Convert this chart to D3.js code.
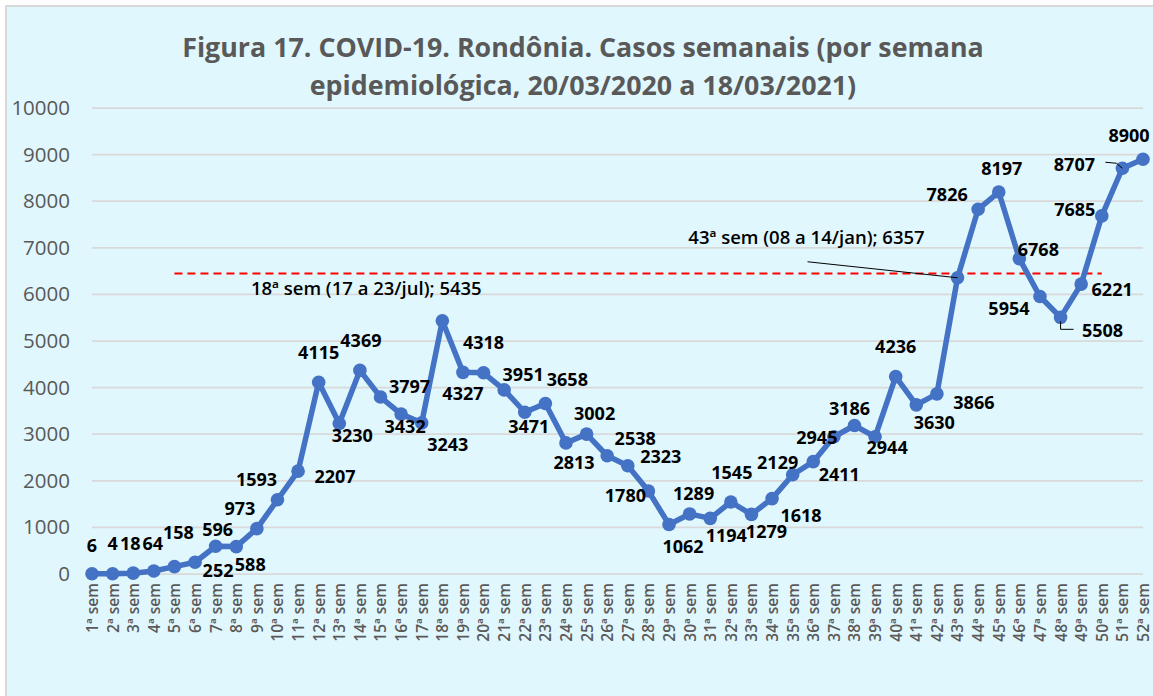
<!DOCTYPE html>
<html>
<head>
<meta charset="utf-8">
<script src="https://cdn.jsdelivr.net/npm/d3@7"></script>
<style>
  html, body { margin: 0; padding: 0; background: #fff; }
  svg { display: block; font-family: "Open Sans", sans-serif; }
</style>
</head>
<body>
<svg id="chart" width="1153" height="696"></svg>
<script>
const titleLines = [
    'Figura 17. COVID-19. Rondônia. Casos semanais (por semana',
    'epidemiológica, 20/03/2020 a 18/03/2021)'
];

const weeks = d3.range(1, 53).map(n => n + 'ª sem');

const cases = [
    6, 4, 18, 64, 158, 252, 596, 588, 973, 1593,
    2207, 4115, 3230, 4369, 3797, 3432, 3243, 5435, 4327, 4318,
    3951, 3471, 3658, 2813, 3002, 2538, 2323, 1780, 1062, 1289,
    1194, 1545, 1279, 1618, 2129, 2411, 2945, 3186, 2944, 4236,
    3630, 3866, 6357, 7826, 8197, 6768, 5954, 5508, 6221, 7685,
    8707, 8900
];

const yTicks = d3.range(0, 10001, 1000);

// dashed reference line (drawn by hand in the original)
const refLevel = 6450;
const refSpan = ['5ª sem', '50ª sem'];

const callouts = [
    { week: '18ª sem', text: '18ª sem (17 a 23/jul); ', dx: -76, dy: -33, leader: null },
    { week: '43ª sem', text: '43ª sem (08 a 14/jan); ', dx: -151, dy: -41, leader: [[-150, -16], [0, 0]] }
];

// label offset from each marker [dx, dy]; null = shown as a callout
const labelOffsets = [
    [0, -29], [0, -31], [-3, -30], [-1, -28], [4, -35], [23, 8], [2, -17], [14, 17], [-17, -21], [-21, -21],
    [37, 5], [0, -30], [13, 12], [1, -30], [29, -11], [4, 12], [26, 21], null, [0, 21], [0, -31],
    [19, -16], [4, 14], [22, -25], [8, 19], [8, -21], [28, -18], [33, -10], [-23, 4], [14, 21], [4, -21],
    [16, 17], [1, -30], [15, 17], [29, 16], [-15, -13], [26, 12], [-17, 0], [-5, -18], [12, 10], [0, -31],
    [18, 17], [37, 8], null, [-31, -15], [3, -24], [19, -10], [-31, 11], [42, 13], [31, 5], [-27, -7],
    [-48, -4], [-14, -24]
];

const labelLeaders = {
    '48ª sem': [[0, 4], [0, 12], [13, 12]],
    '51ª sem': [[-17, -6], [-6, -5], [0, 0]]
};

const width = 1153, height = 696;
const svg = d3.select('#chart');

svg.append('rect')
    .attr('x', 6).attr('y', 6)
    .attr('width', width + 20).attr('height', height + 20)
    .attr('fill', '#E1F7FE')
    .attr('stroke', '#D9D9D9')
    .attr('stroke-width', 2);

const x = d3.scalePoint().domain(weeks).range([92, 1143]);
const y = d3.scaleLinear().domain([0, 10000]).range([574, 108]);

// title, fitted to the width of the original
const title = svg.append('g')
    .attr('fill', '#595959')
    .style('font-weight', 700)
    .style('font-size', '28px');

const tl = title.selectAll('text')
    .data(titleLines)
    .join('text')
    .attr('x', 583)
    .attr('y', (d, i) => 57 + i * 38)
    .attr('text-anchor', 'middle')
    .text(d => d);

const firstLen = tl.node().getComputedTextLength();
title.style('font-size', (28 * 802 / firstLen) + 'px');

// grid
svg.append('g')
    .selectAll('line')
    .data(yTicks)
    .join('line')
    .attr('x1', x.range()[0])
    .attr('x2', x.range()[1])
    .attr('y1', d => y(d))
    .attr('y2', d => y(d))
    .attr('stroke', '#D9D9D9')
    .attr('stroke-width', 1.75);

// y axis
const yAxis = svg.append('g')
    .attr('transform', 'translate(70,0)')
    .call(d3.axisLeft(y).tickValues(yTicks).tickSize(0).tickPadding(0).tickFormat(d3.format('d')));
yAxis.select('.domain').remove();
yAxis.selectAll('text')
    .attr('fill', '#595959')
    .style('font-family', '"Open Sans", sans-serif')
    .style('font-size', '20.5px');

// x axis labels
const xAxis = svg.append('g')
    .attr('transform', 'translate(0,583)')
    .call(d3.axisBottom(x).tickSize(0).tickPadding(0));
xAxis.select('.domain').remove();
xAxis.selectAll('text')
    .attr('transform', 'rotate(-90)')
    .attr('x', 0)
    .attr('y', 0)
    .attr('dy', '0.35em')
    .attr('text-anchor', 'end')
    .attr('fill', '#595959')
    .style('font-family', '"Open Sans", sans-serif')
    .style('font-size', '15.5px')
    .style('font-weight', 600);

// reference line
svg.append('line')
    .attr('x1', x(refSpan[0]))
    .attr('x2', x(refSpan[1]))
    .attr('y1', y(refLevel))
    .attr('y2', y(refLevel))
    .attr('stroke', '#FF0000')
    .attr('stroke-width', 2)
    .attr('stroke-dasharray', '8,5');

// series
const pts = weeks.map((w, i) => ({ week: w, value: cases[i], off: labelOffsets[i] }));

svg.append('path')
    .datum(pts)
    .attr('fill', 'none')
    .attr('stroke', '#4472C4')
    .attr('stroke-width', 5.5)
    .attr('stroke-linejoin', 'round')
    .attr('d', d3.line().x(d => x(d.week)).y(d => y(d.value)));

svg.append('g')
    .selectAll('circle')
    .data(pts)
    .join('circle')
    .attr('cx', d => x(d.week))
    .attr('cy', d => y(d.value))
    .attr('r', 6.8)
    .attr('fill', '#4472C4');

// leader lines
const leader = d3.line();
Object.entries(labelLeaders).forEach(([w, segs]) => {
    const i = weeks.indexOf(w);
    svg.append('path')
        .attr('fill', 'none')
        .attr('stroke', '#000')
        .attr('stroke-width', 1)
        .attr('d', leader(segs.map(([dx, dy]) => [x(w) + dx, y(cases[i]) + dy])));
});

// data labels
svg.append('g')
    .selectAll('text')
    .data(pts.filter(d => d.off))
    .join('text')
    .attr('x', d => x(d.week) + d.off[0])
    .attr('y', d => y(d.value) + d.off[1])
    .attr('text-anchor', 'middle')
    .attr('dominant-baseline', 'central')
    .attr('fill', '#000')
    .style('font-size', '18px')
    .style('font-weight', 700)
    .text(d => d.value);

// callouts
callouts.forEach(c => {
    const v = cases[weeks.indexOf(c.week)];
    const px = x(c.week), py = y(v);
    if (c.leader) {
        svg.append('path')
            .attr('fill', 'none')
            .attr('stroke', '#000')
            .attr('stroke-width', 1)
            .attr('d', leader(c.leader.map(([dx, dy]) => [px + dx, py + dy])));
    }
    svg.append('text')
        .attr('x', px + c.dx)
        .attr('y', py + c.dy)
        .attr('text-anchor', 'middle')
        .attr('dominant-baseline', 'central')
        .attr('fill', '#000')
        .style('font-size', '18.5px')
        .style('font-weight', 600)
        .text(c.text + v);
});
</script>
</body>
</html>
